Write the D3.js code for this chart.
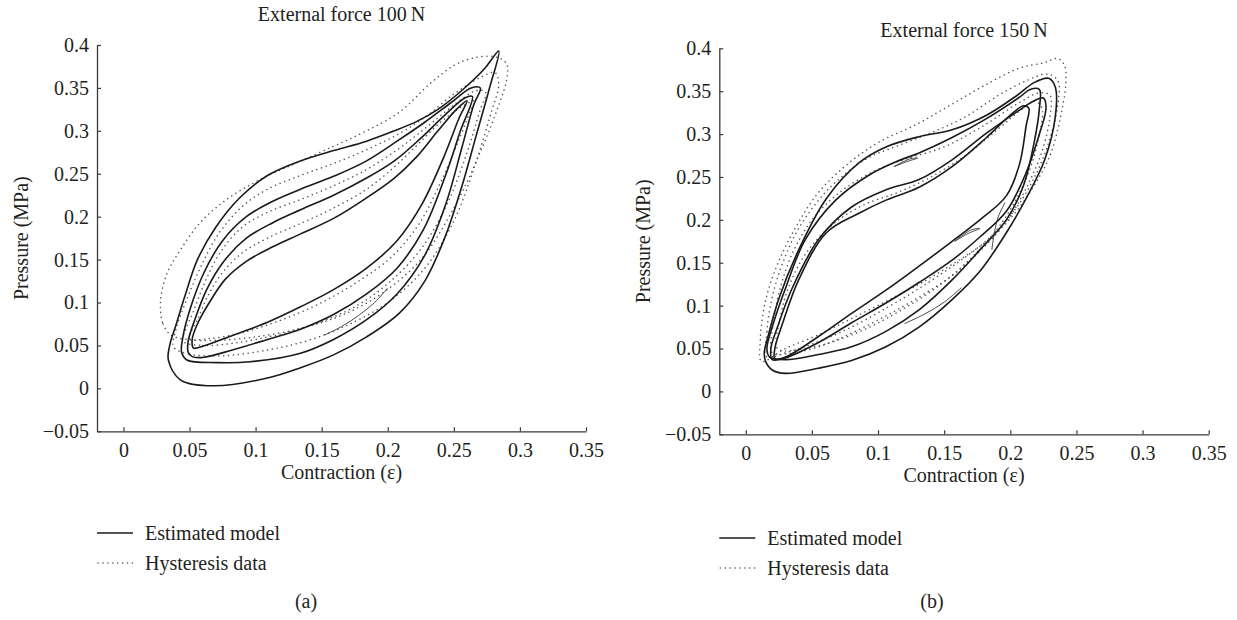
<!DOCTYPE html>
<html><head><meta charset="utf-8">
<script src="https://cdn.jsdelivr.net/npm/d3@7"></script>
<style>
body{margin:0;background:#fff}
svg text{font-family:"Liberation Serif","Times New Roman",serif;fill:#231f20}
</style>
</head><body>
<svg id="chart" width="1237" height="620"></svg>
<script>
// ---------- data ----------
const xTicks = [0, 0.05, 0.1, 0.15, 0.2, 0.25, 0.3, 0.35];
const yTicks = [-0.05, 0, 0.05, 0.1, 0.15, 0.2, 0.25, 0.3, 0.35, 0.4];
const xDomain = [-0.02, 0.35];
const yDomain = [-0.05, 0.4];
const titles = ["External force 100\u2009N", "External force 150\u2009N"];
const panelTags = ["(a)", "(b)"];
const legendLabels = ["Estimated model", "Hysteresis data"];
const xLabel = "Contraction (\u03b5)";
const yLabel = "Pressure (MPa)";

// Panel (a): estimated model loops (contraction, pressure)
const modelA1 = [[0.034,0.033],[0.043,0.010],[0.068,0.003],[0.109,0.012],[0.134,0.024],[0.159,0.039],[0.184,0.060],[0.209,0.088],[0.228,0.125],[0.243,0.175],[0.256,0.235],[0.267,0.295],[0.277,0.35],[0.284,0.393],[0.273,0.372],[0.256,0.347],[0.238,0.325],[0.222,0.311],[0.205,0.300],[0.184,0.288],[0.159,0.277],[0.134,0.265],[0.109,0.248],[0.088,0.222],[0.070,0.188],[0.056,0.150],[0.047,0.11],[0.040,0.075],[0.035,0.05]];
const modelA2 = [[0.048,0.033],[0.071,0.030],[0.096,0.031],[0.134,0.041],[0.159,0.057],[0.184,0.080],[0.207,0.11],[0.228,0.155],[0.244,0.215],[0.256,0.28],[0.265,0.33],[0.27,0.35],[0.263,0.35],[0.248,0.333],[0.228,0.31],[0.209,0.29],[0.184,0.265],[0.159,0.247],[0.134,0.232],[0.113,0.218],[0.093,0.2],[0.075,0.172],[0.061,0.135],[0.051,0.095],[0.045,0.06],[0.044,0.042]];
const modelA3 = [[0.052,0.037],[0.06,0.036],[0.083,0.045],[0.109,0.057],[0.134,0.069],[0.159,0.086],[0.184,0.11],[0.207,0.14],[0.227,0.185],[0.243,0.245],[0.255,0.3],[0.264,0.34],[0.258,0.338],[0.243,0.318],[0.224,0.29],[0.205,0.265],[0.184,0.245],[0.159,0.225],[0.134,0.208],[0.113,0.193],[0.093,0.175],[0.076,0.148],[0.063,0.115],[0.054,0.08],[0.049,0.055],[0.049,0.042]];
const modelA4 = [[0.053,0.047],[0.06,0.049],[0.083,0.062],[0.109,0.077],[0.134,0.095],[0.159,0.115],[0.184,0.14],[0.207,0.172],[0.226,0.215],[0.242,0.268],[0.254,0.315],[0.26,0.335],[0.252,0.325],[0.238,0.3],[0.222,0.27],[0.205,0.245],[0.184,0.222],[0.159,0.198],[0.134,0.18],[0.113,0.165],[0.093,0.148],[0.077,0.127],[0.065,0.1],[0.056,0.075],[0.052,0.057]];
const modelAStart = [[0.2,0.117],[0.19,0.1],[0.178,0.085],[0.165,0.072],[0.152,0.062]];

// Panel (a): measured hysteresis data loops
const dataA1 = [[0.028,0.100],[0.030,0.075],[0.036,0.062],[0.048,0.057],[0.07,0.056],[0.1,0.06],[0.134,0.07],[0.165,0.085],[0.195,0.11],[0.225,0.15],[0.25,0.21],[0.27,0.275],[0.284,0.33],[0.29,0.36],[0.29,0.378],[0.282,0.386],[0.265,0.385],[0.25,0.376],[0.232,0.355],[0.209,0.322],[0.184,0.3],[0.159,0.282],[0.13,0.262],[0.103,0.243],[0.078,0.22],[0.058,0.193],[0.043,0.161],[0.033,0.134]];
const dataA2 = [[0.038,0.048],[0.05,0.04],[0.075,0.038],[0.11,0.045],[0.14,0.056],[0.17,0.074],[0.2,0.1],[0.228,0.14],[0.25,0.195],[0.266,0.26],[0.278,0.32],[0.284,0.355],[0.281,0.368],[0.27,0.362],[0.25,0.343],[0.23,0.318],[0.209,0.297],[0.184,0.278],[0.159,0.262],[0.134,0.248],[0.109,0.232],[0.09,0.212],[0.072,0.18],[0.058,0.14],[0.047,0.1],[0.04,0.07]];
const dataA3 = [[0.045,0.055],[0.06,0.05],[0.085,0.053],[0.115,0.062],[0.145,0.075],[0.175,0.095],[0.2,0.122],[0.225,0.162],[0.245,0.215],[0.26,0.275],[0.27,0.325],[0.274,0.345],[0.267,0.347],[0.25,0.33],[0.23,0.305],[0.209,0.28],[0.184,0.255],[0.159,0.236],[0.134,0.22],[0.109,0.205],[0.09,0.188],[0.074,0.16],[0.062,0.125],[0.053,0.09],[0.047,0.068]];
const dataA4 = [[0.05,0.058],[0.065,0.058],[0.09,0.065],[0.12,0.08],[0.15,0.1],[0.178,0.125],[0.202,0.152],[0.223,0.19],[0.24,0.24],[0.254,0.29],[0.263,0.325],[0.266,0.335],[0.258,0.33],[0.24,0.31],[0.222,0.283],[0.205,0.258],[0.184,0.232],[0.159,0.21],[0.134,0.192],[0.109,0.175],[0.09,0.158],[0.075,0.135],[0.064,0.108],[0.056,0.08]];

// Panel (b): estimated model loops
const modelB1 = [[0.015,0.035],[0.02,0.025],[0.03,0.021],[0.055,0.027],[0.08,0.036],[0.106,0.052],[0.131,0.075],[0.156,0.107],[0.177,0.14],[0.197,0.185],[0.212,0.225],[0.226,0.27],[0.234,0.32],[0.234,0.355],[0.229,0.365],[0.218,0.36],[0.205,0.345],[0.182,0.322],[0.156,0.305],[0.131,0.297],[0.106,0.285],[0.086,0.267],[0.061,0.225],[0.040,0.165],[0.025,0.108],[0.017,0.065],[0.014,0.045]];
const modelB2 = [[0.018,0.04],[0.03,0.037],[0.055,0.043],[0.080,0.052],[0.106,0.070],[0.131,0.095],[0.156,0.130],[0.177,0.165],[0.197,0.2],[0.21,0.24],[0.218,0.29],[0.222,0.33],[0.222,0.352],[0.215,0.352],[0.207,0.343],[0.182,0.318],[0.156,0.296],[0.131,0.278],[0.114,0.268],[0.093,0.252],[0.068,0.223],[0.045,0.177],[0.03,0.12],[0.02,0.075],[0.016,0.05]];
const modelB3 = [[0.02,0.037],[0.03,0.039],[0.055,0.057],[0.080,0.080],[0.106,0.103],[0.131,0.127],[0.156,0.153],[0.177,0.18],[0.197,0.21],[0.212,0.255],[0.222,0.3],[0.227,0.33],[0.225,0.342],[0.217,0.338],[0.207,0.328],[0.182,0.301],[0.156,0.27],[0.131,0.247],[0.106,0.235],[0.080,0.215],[0.055,0.177],[0.035,0.12],[0.024,0.075],[0.019,0.05]];
const modelB4 = [[0.022,0.038],[0.03,0.040],[0.055,0.064],[0.080,0.091],[0.106,0.118],[0.131,0.146],[0.156,0.175],[0.177,0.2],[0.197,0.228],[0.207,0.265],[0.212,0.31],[0.214,0.33],[0.21,0.333],[0.2,0.322],[0.182,0.296],[0.156,0.262],[0.131,0.238],[0.106,0.223],[0.086,0.208],[0.061,0.185],[0.04,0.13],[0.028,0.08],[0.022,0.05]];
const modelBStart1 = [[0.163,0.121],[0.15,0.104],[0.135,0.09],[0.12,0.079]];
const modelBStart2 = [[0.186,0.165],[0.188,0.185],[0.191,0.204],[0.196,0.22]];
const modelBEye1 = [[0.112,0.262],[0.122,0.268],[0.13,0.272],[0.124,0.271],[0.112,0.262]];
const modelBEye2 = [[0.158,0.175],[0.168,0.184],[0.177,0.19],[0.17,0.188],[0.158,0.175]];

// Panel (b): measured hysteresis data loops
const dataB1 = [[0.012,0.035],[0.011,0.06],[0.013,0.09],[0.017,0.118],[0.025,0.152],[0.038,0.192],[0.055,0.232],[0.077,0.265],[0.1,0.29],[0.13,0.312],[0.156,0.335],[0.182,0.358],[0.207,0.377],[0.225,0.383],[0.236,0.388],[0.241,0.38],[0.242,0.36],[0.238,0.32],[0.23,0.275],[0.218,0.24],[0.202,0.205],[0.182,0.175],[0.156,0.148],[0.131,0.125],[0.106,0.105],[0.08,0.085],[0.055,0.066],[0.03,0.05]];
const dataB2 = [[0.016,0.04],[0.016,0.07],[0.02,0.11],[0.028,0.15],[0.04,0.19],[0.062,0.235],[0.09,0.27],[0.116,0.287],[0.141,0.302],[0.166,0.32],[0.192,0.346],[0.212,0.362],[0.228,0.37],[0.236,0.362],[0.236,0.335],[0.23,0.295],[0.22,0.255],[0.205,0.215],[0.185,0.18],[0.16,0.15],[0.131,0.12],[0.106,0.097],[0.08,0.075],[0.055,0.058],[0.03,0.045]];
const dataB3 = [[0.02,0.045],[0.021,0.08],[0.026,0.12],[0.035,0.16],[0.05,0.2],[0.071,0.232],[0.096,0.256],[0.121,0.271],[0.15,0.285],[0.18,0.31],[0.205,0.335],[0.222,0.348],[0.23,0.345],[0.23,0.32],[0.224,0.28],[0.213,0.24],[0.198,0.2],[0.178,0.165],[0.156,0.135],[0.131,0.11],[0.106,0.088],[0.08,0.068],[0.055,0.052],[0.032,0.044]];
const dataB4 = [[0.024,0.05],[0.026,0.085],[0.032,0.12],[0.045,0.16],[0.066,0.195],[0.09,0.218],[0.115,0.232],[0.14,0.25],[0.166,0.275],[0.19,0.305],[0.208,0.328],[0.219,0.338],[0.224,0.33],[0.222,0.3],[0.215,0.26],[0.203,0.22],[0.188,0.185],[0.168,0.152],[0.145,0.122],[0.12,0.097],[0.095,0.076],[0.07,0.06],[0.045,0.05]];

const modelLoopsA = [modelA1, modelA2, modelA3, modelA4];
const dataLoopsA = [dataA1, dataA2, dataA3, dataA4];
const modelLoopsB = [modelB1, modelB2, modelB3, modelB4];
const dataLoopsB = [dataB1, dataB2, dataB3, dataB4];

// ---------- layout ----------
const svg = d3.select("#chart");
const panels = [
  {x0: 97, x1: 586, yTop: 45, yBot: 431.3, titleY: 21, legY: 533, tagX: 306,
   model: modelLoopsA, data: dataLoopsA, starts: [modelAStart]},
  {x0: 719.3, x1: 1208.7, yTop: 48.3, yBot: 434.3, titleY: 37, legY: 538, tagX: 932,
   model: modelLoopsB, data: dataLoopsB, starts: [modelBStart1, modelBStart2, modelBEye1, modelBEye2]}
];
const fmt = d => d === 0 ? "0" : (d < 0 ? "\u2212" : "") + String(+Math.abs(d).toFixed(2));

panels.forEach((p, i) => {
  const x = d3.scaleLinear().domain(xDomain).range([p.x0, p.x1]);
  const y = d3.scaleLinear().domain(yDomain).range([p.yBot, p.yTop]);
  const g = svg.append("g");

  const yAxis = d3.axisLeft(y).tickValues(yTicks).tickFormat(fmt).tickSizeInner(-4).tickSizeOuter(0).tickPadding(8);
  const xAxis = d3.axisBottom(x).tickValues(xTicks).tickFormat(fmt).tickSizeInner(-4).tickSizeOuter(0).tickPadding(12);
  const ya = g.append("g").attr("transform", `translate(${p.x0},0)`).call(yAxis);
  const xa = g.append("g").attr("transform", `translate(0,${p.yBot})`).call(xAxis);
  [ya, xa].forEach(a => {
    a.selectAll("path.domain").attr("stroke", "#3a3a3a").attr("stroke-width", 1.3);
    a.selectAll(".tick line").attr("stroke", "#3a3a3a").attr("stroke-width", 1.2);
    a.selectAll("text").attr("font-family", "Liberation Serif, serif").attr("font-size", 20).attr("fill", "#231f20");
  });

  const line = d3.line().x(d => x(d[0])).y(d => y(d[1])).curve(d3.curveCatmullRomClosed.alpha(0.5));
  const openLine = d3.line().x(d => x(d[0])).y(d => y(d[1])).curve(d3.curveCatmullRom.alpha(0.5));

  g.selectAll("path.data").data(p.data).join("path").attr("class", "data")
    .attr("d", line).attr("fill", "none").attr("stroke", "#555")
    .attr("stroke-width", 1.5).attr("stroke-dasharray", "0.1 4.8").attr("stroke-linecap", "round");
  g.selectAll("path.model").data(p.model).join("path").attr("class", "model")
    .attr("d", line).attr("fill", "none").attr("stroke", "#1a1a1a").attr("stroke-width", 1.6);
  g.selectAll("path.start").data(p.starts).join("path").attr("class", "start")
    .attr("d", openLine).attr("fill", "none").attr("stroke", "#333").attr("stroke-width", 0.9);

  const cx = (p.x0 + p.x1) / 2;
  g.append("text").attr("x", cx).attr("y", p.titleY).attr("text-anchor", "middle").attr("font-size", 20).text(titles[i]);
  g.append("text").attr("x", cx).attr("y", p.yBot + 48).attr("text-anchor", "middle").attr("font-size", 20).text(xLabel);
  g.append("text").attr("transform", `translate(${p.x0 - 69},${(p.yTop + p.yBot) / 2}) rotate(-90)`)
    .attr("text-anchor", "middle").attr("font-size", 20).text(yLabel);

  // legend
  const lx = p.x0;
  g.append("line").attr("x1", lx).attr("x2", lx + 36).attr("y1", p.legY).attr("y2", p.legY)
    .attr("stroke", "#1a1a1a").attr("stroke-width", 1.4);
  g.append("line").attr("x1", lx + 1).attr("x2", lx + 36).attr("y1", p.legY + 30).attr("y2", p.legY + 30)
    .attr("stroke", "#555").attr("stroke-width", 1.5).attr("stroke-dasharray", "0.1 4.8").attr("stroke-linecap", "round");
  g.append("text").attr("x", lx + 48).attr("y", p.legY + 7).attr("font-size", 20).text(legendLabels[0]);
  g.append("text").attr("x", lx + 48).attr("y", p.legY + 37).attr("font-size", 20).text(legendLabels[1]);
  g.append("text").attr("x", p.tagX).attr("y", 608).attr("text-anchor", "middle").attr("font-size", 20).text(panelTags[i]);
});
</script>
</body></html>
